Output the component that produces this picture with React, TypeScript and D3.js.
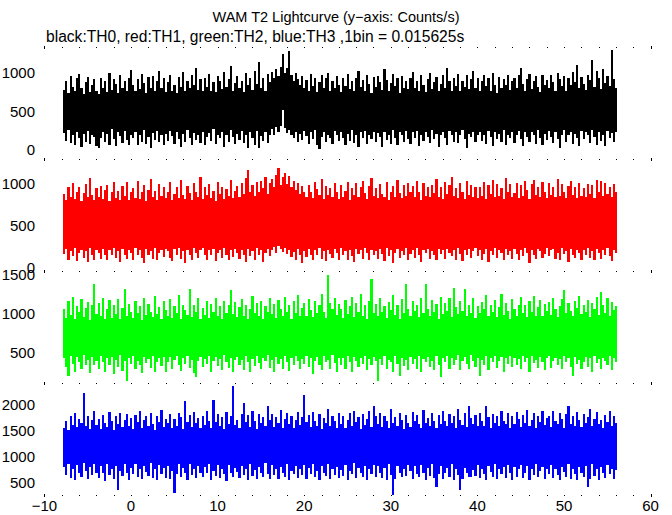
import React from "react";
import * as d3 from "d3";

// time axis of the binned light curves (s); each bin holds min/max of 16 raw 1/64-s samples
const T0 = -7.85;
const DT = 0.25;

// TH0 (black) counts/s: per-bin maxima and minima
const th0Hi = [
  780, 900, 740, 960, 820, 760, 930, 990, 800, 730, 880, 950, 750, 840, 920, 770,
  730, 940, 810, 890, 750, 1000, 780, 920, 860, 740, 970, 800, 900, 760, 930, 1040,
  840, 760, 920, 790, 990, 870, 740, 950, 810, 960, 760, 900, 1030, 800, 930, 750,
  880, 980, 770, 850, 740, 950, 820, 1010, 760, 900, 800, 970, 850, 1060, 780, 920,
  760, 940, 820, 990, 770, 880, 750, 960, 890, 790, 1010, 820, 920, 1090, 770, 870,
  960, 800, 900, 750, 1000, 840, 940, 780, 1020, 860, 1140, 810, 940, 770, 990, 880,
  1010, 930, 1050, 960, 1080, 1250, 1000, 1060, 1280, 970, 900, 1000, 920, 840, 960, 800,
  910, 770, 990, 830, 940, 750, 880, 970, 810, 930, 1000, 770, 890, 800, 960, 850,
  750, 940, 830, 990, 790, 900, 760, 930, 1020, 820, 910, 770, 970, 860, 740, 950,
  820, 960, 880, 780, 1050, 910, 760, 870, 990, 830, 940, 740, 960, 810, 900, 790,
  930, 1010, 800, 890, 760, 970, 850, 750, 920, 1000, 790, 880, 950, 770, 860, 980,
  810, 1070, 890, 770, 940, 830, 990, 760, 900, 820, 970, 790, 920, 1020, 800, 940,
  760, 890, 980, 830, 940, 770, 1000, 850, 740, 950, 800, 920, 840, 980, 780, 900,
  940, 810, 970, 1060, 860, 760, 920, 990, 790, 900, 960, 820, 750, 970, 850, 910,
  800, 980, 880, 770, 1000, 920, 830, 960, 760, 940, 850, 1010, 880, 1100, 800, 950,
  860, 780, 980, 910, 1170, 820, 1020, 930, 790, 1050, 870, 960, 830, 1300, 920, 800,
];
const th0Lo = [
  220, 120, 260, 90, 190, 60, 240, 150, 40, 210, 110, 250, 80, 200, 170, 50,
  20, 160, 240, 100, 210, 70, 270, 140, 50, 230, 180, 90, 250, 130, 60, 200,
  150, 240, 70, 190, 110, 260, 80, 170, 30, 220, 130, 250, 100, 190, 60, 210,
  120, 250, 180, 80, 230, 140, 40, 210, 110, 260, 160, 70, 220, 130, 190, 90,
  240, 60, 170, 220, 120, 270, 80, 190, 150, 230, 40, 200, 100, 260, 170, 80,
  210, 130, 250, 90, 190, 30, 230, 150, 70, 250, 20, 180, 120, 240, 90, 200,
  270, 190, 300, 240, 310, 520, 280, 220, 260, 200, 150, 240, 110, 210, 130, 250,
  180, 80, 230, 140, 260, 60, 10, 170, 240, 100, 200, 150, 80, 250, 190, 120,
  240, 150, 70, 210, 120, 260, 90, 190, 40, 230, 160, 250, 80, 200, 140, 240,
  100, 220, 170, 40, 240, 130, 200, 80, 260, 160, 60, 230, 190, 100, 250, 140,
  80, 230, 150, 250, 50, 200, 120, 240, 170, 90, 260, 140, 210, 40, 190, 240,
  160, 70, 250, 190, 110, 230, 90, 200, 260, 140, 30, 210, 170, 240, 100, 190,
  230, 120, 200, 80, 250, 170, 50, 240, 140, 210, 100, 260, 70, 190, 150, 230,
  90, 200, 250, 140, 50, 230, 170, 100, 240, 190, 80, 260, 160, 60, 210, 130,
  250, 170, 90, 230, 140, 30, 200, 260, 110, 190, 240, 80, 210, 150, 50, 250,
  140, 230, 190, 90, 260, 170, 70, 240, 120, 200, 50, 250, 160, 220, 100, 230,
];

// TH1 (red)
const th1Hi = [
  880, 810, 960, 850, 1010, 820, 910, 970, 800, 890, 1000, 840, 1070, 870, 810, 950,
  840, 975, 820, 930, 990, 800, 900, 1030, 830, 920, 810, 980, 860, 1020, 810, 910,
  950, 830, 1040, 820, 900, 990, 800, 930, 1060, 850, 920, 810, 1000, 860, 970, 830,
  910, 1030, 810, 880, 960, 830, 1050, 870, 820, 980, 890, 810, 1010, 910, 850, 1080,
  820, 970, 870, 1000, 830, 920, 800, 1020, 880, 960, 820, 940, 860, 1050, 830, 920,
  980, 850, 1010, 880, 1070, 1170, 900, 990, 860, 1020, 910, 1040, 950, 1080, 880, 1010,
  1060, 970, 1110, 1190, 990, 1080, 1130, 1000, 1090, 960, 1040, 930, 1010, 880, 980, 910,
  850, 990, 900, 830, 1030, 940, 870, 1060, 820, 980, 870, 950, 840, 1010, 900, 820,
  990, 850, 920, 1020, 810, 950, 870, 1010, 840, 960, 1040, 890, 820, 980, 1070, 860,
  950, 830, 1000, 880, 850, 1030, 810, 910, 980, 840, 1050, 890, 830, 990, 860, 1010,
  900, 980, 840, 1040, 910, 810, 1010, 860, 960, 840, 990, 890, 1060, 850, 970, 820,
  1020, 880, 990, 1080, 860, 950, 830, 1010, 900, 820, 1040, 870, 990, 850, 960, 830,
  970, 860, 1030, 820, 990, 880, 1050, 840, 1000, 860, 950, 820, 1070, 900, 1000, 850,
  890, 1010, 830, 990, 860, 1040, 930, 820, 1000, 1050, 870, 970, 840, 1020, 900, 830,
  1010, 870, 960, 840, 1060, 860, 1000, 900, 830, 980, 1040, 870, 960, 830, 1010, 860,
  950, 840, 1000, 880, 990, 830, 1050, 900, 1040, 860, 1010, 880, 970, 840, 1000, 900,
];
const th1Lo = [
  170, 230, 100, 200, 140, 240, 80, 180, 220, 120, 200, 70, 240, 150, 100, 210,
  180, 110, 230, 150, 90, 220, 160, 240, 120, 200, 70, 230, 150, 110, 210, 180,
  100, 240, 160, 210, 120, 60, 230, 150, 200, 110, 240, 90, 180, 220, 130, 230,
  200, 120, 80, 230, 160, 240, 110, 200, 60, 220, 150, 100, 240, 180, 120, 210,
  240, 160, 100, 210, 150, 230, 80, 180, 220, 120, 240, 160, 100, 210, 130, 230,
  180, 110, 220, 160, 70, 230, 140, 200, 100, 240, 150, 210, 70, 180, 230, 140,
  220, 250, 180, 260, 230, 190, 240, 170, 210, 130, 190, 100, 230, 150, 60, 200,
  130, 230, 160, 100, 210, 150, 240, 110, 200, 80, 220, 170, 120, 230, 180, 100,
  240, 150, 200, 100, 220, 140, 70, 230, 170, 210, 110, 240, 180, 90, 220, 150,
  200, 110, 230, 170, 80, 240, 140, 210, 60, 180, 230, 120, 200, 150, 240, 100,
  170, 220, 120, 240, 150, 70, 210, 180, 230, 110, 200, 150, 90, 230, 170, 210,
  110, 230, 180, 140, 220, 100, 240, 170, 80, 210, 150, 230, 120, 200, 240, 140,
  210, 100, 170, 230, 70, 200, 150, 240, 120, 210, 180, 100, 230, 150, 200, 110,
  230, 170, 90, 210, 140, 240, 180, 60, 220, 150, 110, 230, 200, 120, 170, 240,
  140, 210, 230, 110, 180, 90, 240, 170, 200, 70, 230, 150, 120, 220, 180, 100,
  220, 150, 240, 120, 200, 90, 230, 180, 110, 210, 160, 240, 140, 80, 220, 180,
];

// TH2 (green)
const th2Hi = [
  1070, 950, 1160, 990, 1220, 930, 1100, 1020, 1190, 960, 1080, 1150, 920, 1110, 1385, 1000,
  1140, 970, 1210, 930, 1060, 1180, 950, 1120, 1000, 1190, 940, 1080, 1320, 970, 1130, 1030,
  950, 1170, 1010, 1100, 920, 1210, 990, 1130, 1030, 960, 1230, 1000, 1090, 940, 1160, 1050,
  980, 1190, 950, 1100, 1010, 1240, 930, 1120, 1050, 990, 1320, 960, 1110, 1020, 1200, 940,
  1080, 990, 1170, 950, 1130, 1020, 1210, 970, 1100, 930, 1160, 1010, 1120, 1310, 1000, 1150,
  960, 1090, 1190, 980, 1120, 940, 1060, 1230, 1010, 1140, 970, 1170, 930, 1100, 1030, 1200,
  1000, 1130, 950, 1180, 1060, 980, 1220, 1030, 1120, 930, 1160, 1010, 1240, 980, 1080, 1140,
  970, 1190, 1050, 960, 1170, 1010, 1110, 1250, 1030, 950, 1500, 1140, 1070, 1200, 990, 1130,
  1060, 950, 1180, 1000, 1100, 1220, 960, 1140, 1020, 1260, 980, 1110, 930, 1160, 1450, 1010,
  1130, 970, 1200, 1020, 1100, 950, 1150, 1050, 1240, 990, 1120, 930, 1190, 1010, 1390, 1070,
  980, 1170, 1040, 1110, 960, 1200, 1010, 1385, 1070, 970, 1180, 1020, 1130, 940, 1220, 1000,
  1140, 1040, 1210, 960, 1330, 1090, 1000, 1170, 1040, 1320, 970, 1120, 1010, 1200, 950, 1100,
  1010, 1150, 1060, 1240, 970, 1110, 1020, 1180, 960, 1090, 1260, 990, 1140, 1040, 940, 1190,
  1070, 980, 1120, 1220, 1010, 1110, 960, 1170, 1020, 1230, 980, 1090, 1180, 970, 1130, 1040,
  1150, 990, 1210, 1060, 960, 1100, 1190, 1310, 1010, 1140, 1040, 970, 1170, 1080, 1230, 1000,
  1110, 1020, 1180, 960, 1140, 1060, 1220, 990, 1280, 1120, 1010, 1200, 970, 1150, 1050, 1100,
];
const th2Lo = [
  430, 320, 200, 460, 360, 260, 450, 380, 290, 470, 340, 410, 240, 450, 350, 400,
  300, 460, 380, 260, 440, 340, 450, 230, 410, 320, 470, 270, 400, 140, 440, 360,
  460, 290, 400, 350, 240, 450, 370, 420, 310, 460, 260, 390, 440, 330, 450, 250,
  380, 450, 300, 410, 460, 340, 270, 440, 360, 460, 310, 410, 240, 190, 400, 450,
  320, 420, 360, 460, 260, 400, 450, 330, 420, 280, 470, 380, 310, 440, 250, 410,
  450, 340, 410, 280, 460, 380, 250, 420, 330, 460, 370, 290, 440, 400, 470, 310,
  410, 250, 450, 360, 420, 300, 460, 380, 270, 440, 340, 460, 400, 290, 420, 360,
  460, 320, 430, 230, 400, 450, 350, 280, 460, 380, 410, 300, 470, 370, 250, 440,
  350, 430, 300, 460, 380, 260, 450, 400, 320, 440, 360, 460, 280, 420, 340, 450,
  400, 140, 420, 340, 460, 290, 410, 380, 250, 460, 360, 200, 440, 330, 410, 280,
  450, 360, 420, 300, 460, 250, 420, 380, 450, 320, 400, 280, 460, 350, 190, 430,
  380, 460, 290, 430, 340, 410, 470, 280, 400, 450, 360, 300, 470, 400, 320, 440,
  200, 410, 340, 460, 280, 430, 380, 460, 310, 400, 450, 260, 430, 360, 460, 320,
  440, 340, 420, 290, 460, 380, 430, 250, 460, 370, 410, 310, 450, 380, 280, 430,
  460, 310, 400, 440, 350, 420, 290, 460, 380, 430, 320, 200, 450, 360, 410, 300,
  390, 450, 320, 430, 260, 460, 370, 420, 300, 440, 400, 340, 460, 280, 430, 380,
];

// TH3 (blue)
const th3Hi = [
  1560, 1700, 1510, 1780, 1620, 1840, 1570, 1730, 1650, 2230, 1590, 1790, 1530, 1720, 1880, 1610,
  1740, 1540, 1810, 1650, 1580, 1860, 1690, 1520, 1790, 1630, 1850, 1580, 1720, 1830, 1600, 1750,
  1530, 1800, 1670, 1880, 1560, 1710, 1780, 1600, 1850, 1640, 1520, 1790, 1680, 1900, 1570, 1740,
  1660, 1820, 1550, 1730, 1600, 1850, 1760, 1540, 2080, 1680, 1800, 1570, 1870, 1650, 1750, 1550,
  1790, 1620, 1890, 1700, 1560, 2100, 1680, 1820, 1600, 1760, 1530, 1860, 1640, 1780, 2370, 1610,
  1720, 1550, 1830, 2040, 1670, 1800, 1580, 1880, 1700, 1540, 1820, 1650, 1760, 1600, 1980, 1710,
  1820, 1570, 1770, 1660, 1910, 1560, 1740, 1840, 1630, 1790, 1550, 1720, 1870, 1610, 1760, 2200,
  1670, 1810, 1580, 1870, 1700, 1600, 1820, 1540, 1750, 1650, 1920, 1590, 1790, 1690, 1560, 1850,
  1630, 1780, 1550, 1720, 1840, 1600, 1890, 1670, 1760, 1540, 1820, 1620, 1730, 1880, 1580, 1990,
  1780, 1640, 1850, 1580, 1790, 1690, 1550, 1920, 1650, 1760, 1600, 1840, 1710, 1540, 1810, 1660,
  1580, 1860, 1690, 1800, 1630, 1560, 1900, 1660, 1750, 1600, 1840, 1690, 1550, 1800, 1640, 1880,
  1700, 1600, 1820, 1660, 1780, 1550, 1930, 1710, 1620, 1850, 1580, 1980, 1750, 1640, 1810, 1590,
  1850, 1690, 1600, 1990, 1760, 1560, 1820, 1660, 1790, 1590, 1880, 1700, 1640, 1840, 1560, 1780,
  1630, 1870, 1740, 1580, 1810, 1660, 1910, 1600, 1720, 1840, 1550, 1780, 1680, 1890, 1610, 1750,
  1790, 1580, 1880, 1690, 1630, 1850, 1740, 1550, 1820, 1980, 1640, 1780, 1600, 1860, 1710, 1580,
  1830, 1660, 1770, 1920, 1600, 1740, 1870, 1630, 1720, 1550, 1810, 1680, 1890, 1590, 1790, 1650,
];
const th3Lo = [
  800, 660, 860, 590, 760, 550, 840, 700, 620, 880, 730, 570, 810, 650, 870, 690,
  590, 820, 700, 540, 860, 660, 770, 570, 830, 365, 740, 630, 870, 700, 550, 790,
  680, 860, 610, 770, 570, 820, 720, 640, 880, 600, 760, 550, 840, 680, 780, 600,
  820, 570, 740, 310, 680, 860, 620, 790, 700, 560, 870, 650, 770, 590, 830, 690,
  610, 800, 690, 870, 550, 740, 640, 840, 590, 770, 680, 540, 850, 700, 620, 790,
  720, 590, 830, 660, 770, 560, 860, 640, 750, 570, 810, 700, 610, 880, 680, 580,
  840, 660, 770, 570, 800, 700, 620, 860, 550, 740, 680, 820, 600, 770, 650, 850,
  570, 780, 680, 860, 610, 730, 550, 830, 700, 640, 870, 580, 770, 660, 810, 590,
  750, 640, 840, 560, 740, 680, 880, 590, 790, 700, 610, 830, 550, 760, 670, 850,
  620, 820, 700, 590, 790, 560, 860, 660, 270, 580, 830, 690, 610, 760, 640, 840,
  740, 570, 820, 680, 610, 850, 700, 550, 780, 640, 860, 590, 430, 680, 820, 570,
  700, 790, 610, 860, 560, 760, 660, 365, 580, 780, 700, 610, 620, 750, 640, 840,
  590, 770, 680, 550, 820, 720, 620, 860, 570, 770, 670, 800, 600, 850, 690, 560,
  800, 620, 760, 840, 590, 700, 820, 560, 770, 650, 860, 610, 730, 800, 570, 760,
  680, 840, 590, 770, 660, 560, 810, 720, 620, 860, 580, 770, 680, 550, 800, 700,
  610, 820, 425, 580, 860, 640, 770, 560, 800, 700, 600, 840, 670, 770, 570, 750,
];

const xTickLabels = [-10, 0, 10, 20, 30, 40, 50, 60];
const minorStep = 2;

const panels = [
  { hi: th0Hi, lo: th0Lo, color: "#000000", domain: [-117, 1338], ticks: [0, 500, 1000] },
  { hi: th1Hi, lo: th1Lo, color: "#ff0000", domain: [-36, 1298], ticks: [0, 500, 1000] },
  { hi: th2Hi, lo: th2Lo, color: "#00ff00", domain: [115, 1551], ticks: [500, 1000, 1500] },
  { hi: th3Hi, lo: th3Lo, color: "#0000ff", domain: [269, 2423], ticks: [500, 1000, 1500, 2000] },
];

const W = 672;
const H = 515;
const PLOT_L = 44.4;
const PLOT_R = 650.6;
const TOP = 47;
const PANEL_H = 112;
const FONT = "'Liberation Sans', Arial, Helvetica, sans-serif";

type P = { t: number; h: number; l: number };

export default function App() {
  const x = d3.scaleLinear().domain([-10, 60]).range([PLOT_L, PLOT_R]);
  const minorTicks = d3.range(-10, 60 + 0.001, minorStep);

  return (
    <svg
      width={W}
      height={H}
      style={{ position: "absolute", left: 0, top: 0, background: "#fff" }}
      fontFamily={FONT}
    >
      <rect width={W} height={H} fill="#fff" />
      <text x={W / 2} y={22} textAnchor="middle" fontSize={14.5}>
        WAM T2 Lightcurve (y−axis: Counts/s)
      </text>
      <text x={46} y={41.5} fontSize={15.6}>
        black:TH0, red:TH1, green:TH2, blue:TH3 ,1bin = 0.015625s
      </text>

      {panels.map((p, k) => {
        const y0 = TOP + k * PANEL_H;
        const y = d3.scaleLinear().domain(p.domain).range([y0 + PANEL_H, y0]);
        const pts: P[] = p.hi.map((h, i) => ({ t: T0 + i * DT, h, l: p.lo[i] }));
        const last = pts[pts.length - 1];
        pts.push({ t: T0 + pts.length * DT, h: last.h, l: last.l });
        const area = d3
          .area<P>()
          .x((d) => x(d.t))
          .y0((d) => y(d.l))
          .y1((d) => y(d.h))
          .curve(d3.curveStepAfter);
        return (
          <g key={k}>
            <path d={area(pts) || ""} fill={p.color} stroke="none" shapeRendering="crispEdges" />
            {p.ticks.map((v) => (
              <text key={v} x={35} y={y(v) + 5.4} textAnchor="end" fontSize={15}>
                {v}
              </text>
            ))}
          </g>
        );
      })}

      {d3.range(0, panels.length + 1).map((k) => {
        const yy = TOP + k * PANEL_H;
        return (
          <g key={"tk" + k} shapeRendering="crispEdges">
            {minorTicks.map((t) => (
              <rect key={t} x={Math.round(x(t))} y={yy} width={1} height={1} fill="#000" />
            ))}
            <rect x={Math.round(x(-10))} y={yy - 1} width={1} height={3} fill="#000" />
            <rect x={Math.round(x(60))} y={yy - 1} width={1} height={3} fill="#000" />
          </g>
        );
      })}

      {xTickLabels.map((t) => (
        <text key={t} x={x(t)} y={511} textAnchor="middle" fontSize={15}>
          {t < 0 ? "−" + Math.abs(t) : String(t)}
        </text>
      ))}
    </svg>
  );
}
